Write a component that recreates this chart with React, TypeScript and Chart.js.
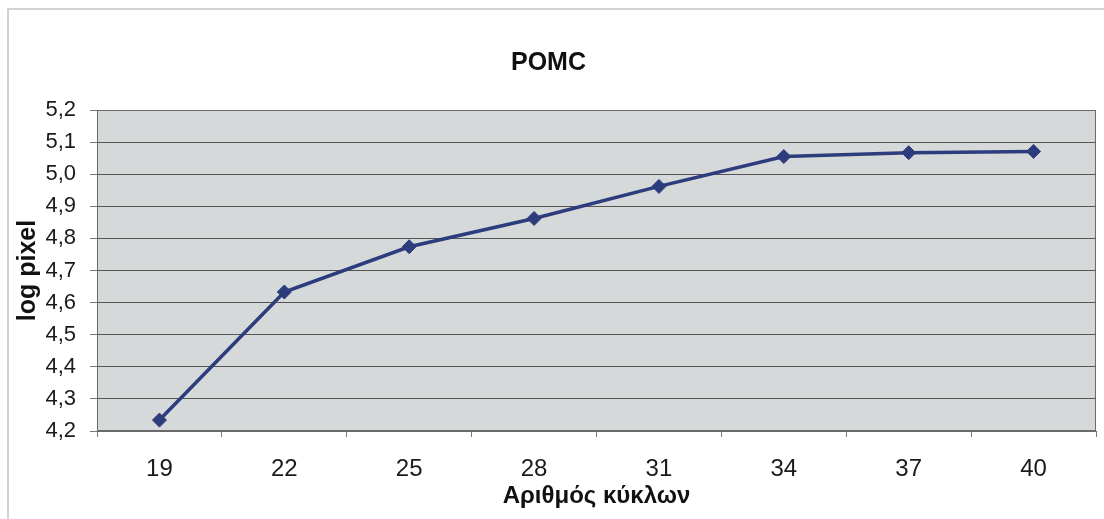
import React, { useEffect, useRef } from "react";
import { Chart, registerables } from "chart.js";

Chart.register(...registerables);

const chartTitle = "POMC";
const xAxisTitle = "Αριθμός κύκλων";
const yAxisTitle = "log pixel";
const categories = ["19", "22", "25", "28", "31", "34", "37", "40"];
const logPixel = [4.234, 4.633, 4.774, 4.862, 4.962, 5.055, 5.067, 5.071];
const yTicks = [4.2, 4.3, 4.4, 4.5, 4.6, 4.7, 4.8, 4.9, 5.0, 5.1, 5.2];

const FONT = "'Liberation Sans', Arial, sans-serif";

const framePlugin = {
  id: "framePlugin",
  beforeDraw(chart: any) {
    const { ctx, chartArea } = chart;
    ctx.save();
    ctx.fillStyle = "#ffffff";
    ctx.fillRect(0, 0, chart.width, chart.height);
    ctx.strokeStyle = "#c4c4c4";
    ctx.lineWidth = 1.5;
    ctx.beginPath();
    ctx.moveTo(8, chart.height);
    ctx.lineTo(8, 9);
    ctx.lineTo(chart.width, 9);
    ctx.stroke();
    ctx.fillStyle = "rgb(214,217,217)";
    ctx.fillRect(chartArea.left, chartArea.top, chartArea.right - chartArea.left, chartArea.bottom - chartArea.top);
    ctx.restore();
  },
  afterDatasetsDraw(chart: any) {
    const { ctx, chartArea } = chart;
    ctx.save();
    ctx.strokeStyle = "#6a6a6a";
    ctx.lineWidth = 1;
    ctx.strokeRect(chartArea.left + 0.5, chartArea.top + 0.5, chartArea.right - chartArea.left - 1, chartArea.bottom - chartArea.top - 1);
    ctx.restore();
  },
};

export default function App() {
  const ref = useRef<HTMLCanvasElement>(null);

  useEffect(() => {
    if (!ref.current) return;
    const chart = new Chart(ref.current, {
      type: "line",
      data: {
        labels: categories,
        datasets: [
          {
            data: logPixel,
            borderColor: "#2c3c7c",
            backgroundColor: "#2c3c7c",
            borderWidth: 3.5,
            pointStyle: "rectRot",
            pointRadius: 7,
            pointBorderWidth: 1,
            tension: 0,
          },
        ],
      },
      options: {
        animation: false,
        responsive: false,
        devicePixelRatio: 1,
        layout: { padding: { left: 0, right: 7, top: 0, bottom: 0 } },
        plugins: {
          legend: { display: false },
          tooltip: { enabled: false },
          title: {
            display: true,
            text: chartTitle,
            color: "#111",
            font: { family: FONT, size: 25, weight: "bold", lineHeight: 1.2 },
            padding: { top: 48, bottom: 32 },
          },
        },
        scales: {
          x: {
            type: "category",
            offset: true,
            afterFit(scale: any) {
              scale.height = 88;
            },
            grid: {
              offset: true,
              drawOnChartArea: false,
              drawTicks: true,
              tickLength: 6,
              color: "#777",
            },
            border: { display: true, color: "#6a6a6a" },
            ticks: {
              color: "#1a1a1a",
              padding: 18,
              maxRotation: 0,
              font: { family: FONT, size: 24, lineHeight: 1.2 },
            },
            title: {
              display: true,
              text: xAxisTitle,
              color: "#111",
              font: { family: FONT, size: 24, weight: "bold", lineHeight: 1.2 },
              padding: { top: 0, bottom: 8 },
            },
          },
          y: {
            type: "linear",
            min: 4.2,
            max: 5.2,
            afterFit(scale: any) {
              scale.width = 97;
            },
            afterBuildTicks(scale: any) {
              scale.ticks = yTicks.map((v) => ({ value: v }));
            },
            grid: {
              color: "#555",
              lineWidth: 1,
              drawTicks: true,
              tickLength: 7,
              tickColor: "#777",
            },
            border: { display: true, color: "#6a6a6a" },
            ticks: {
              color: "#1a1a1a",
              padding: 14,
              font: { family: FONT, size: 22, lineHeight: 1.2 },
              callback: (v: any) => Number(v).toFixed(1).replace(".", ","),
            },
            title: {
              display: true,
              text: yAxisTitle,
              color: "#111",
              font: { family: FONT, size: 25, weight: "bold", lineHeight: 1.2 },
              padding: { top: 13, bottom: 0 },
            },
          },
        },
      },
      plugins: [framePlugin],
    } as any);
    return () => chart.destroy();
  }, []);

  return (
    <div style={{ position: "absolute", left: 0, top: 0, width: 1104, height: 519 }}>
      <canvas ref={ref} width={1104} height={519} style={{ width: 1104, height: 519 }} />
    </div>
  );
}
